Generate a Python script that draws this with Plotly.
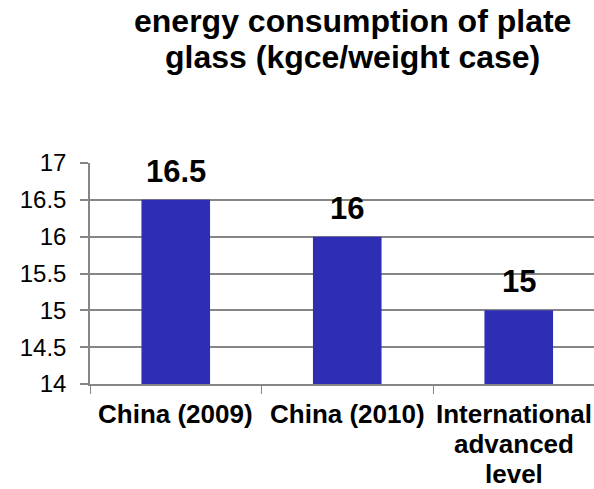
import plotly.graph_objects as go

# Energy consumption of plate glass, kgce per weight case
categories = ["China (2009)", "China (2010)", "International advanced level"]
category_lines = [["China (2009)"], ["China (2010)"], ["International", "advanced", "level"]]
values = [16.5, 16, 15]
y_ticks = [14, 14.5, 15, 15.5, 16, 16.5, 17]
y_tick_text = ["14", "14.5", "15", "15.5", "16", "16.5", "17"]
title_lines = ["energy consumption of plate", "glass (kgce/weight case)"]

FONT = "Liberation Sans, Arial, sans-serif"
BAR = "#2E2EB4"
GRID = "#868686"

W, H = 594, 489
top, bottom, left = 163, 105, 90
plot_h = H - top - bottom
axis_y = H - bottom

fig = go.Figure(
    go.Bar(
        x=categories,
        y=values,
        width=0.4,
        marker=dict(color=BAR, line=dict(width=0)),
        hoverinfo="x+y",
    )
)

# value labels above each bar
for c, v in zip(categories, values):
    fig.add_annotation(
        x=c, y=v, text=f"<b>{v:g}</b>", showarrow=False,
        yanchor="bottom", yshift=9,
        font=dict(family=FONT, size=31, color="black"),
    )

# category labels under the axis, one annotation per line for tight leading
for i, (c, lines) in enumerate(zip(categories, category_lines)):
    for k, line in enumerate(lines):
        centre_px = 414 + 30 * k
        fig.add_annotation(
            x=c, xref="x", y=0, yref="paper",
            text=f"<b>{line}</b>", showarrow=False,
            xanchor="center", yanchor="middle",
            yshift=-(centre_px - axis_y),
            xshift=-5 if i == len(categories) - 1 else 0,
            font=dict(family=FONT, size=26, color="black"),
        )

# two-line heading
def paper_y(px):
    return (axis_y - px) / plot_h

for txt, yc in zip(title_lines, [21, 57]):
    fig.add_annotation(
        xref="paper", yref="paper",
        x=(352 - left) / (W - left), y=paper_y(yc),
        text=f"<b>{txt}</b>", showarrow=False,
        xanchor="center", yanchor="middle",
        font=dict(family=FONT, size=32, color="black"),
    )

cat_w = 171.5
fig.update_layout(
    width=W, height=H,
    margin=dict(l=left, r=0, t=top, b=bottom, pad=0),
    paper_bgcolor="white",
    plot_bgcolor="white",
    showlegend=False,
    bargap=0.6,
    xaxis=dict(
        type="category",
        range=[-0.5, -0.5 + (W - left) / cat_w],
        automargin=False,
        showline=True, linecolor=GRID, linewidth=1.5,
        ticks="outside", tickson="boundaries", ticklen=8, tickcolor=GRID, tickwidth=1,
        showgrid=False,
        showticklabels=False,
    ),
    yaxis=dict(
        range=[14, 17],
        automargin=False,
        tickvals=y_ticks, ticktext=y_tick_text,
        showline=True, linecolor=GRID, linewidth=1.5,
        ticks="outside", ticklen=8, tickcolor=GRID, tickwidth=1.5,
        showgrid=True, gridcolor=GRID, gridwidth=1.5,
        zeroline=False,
        tickfont=dict(family=FONT, size=24, color="black"),
        ticklabelstandoff=9,
    ),
)

fig.write_html("out.html")
